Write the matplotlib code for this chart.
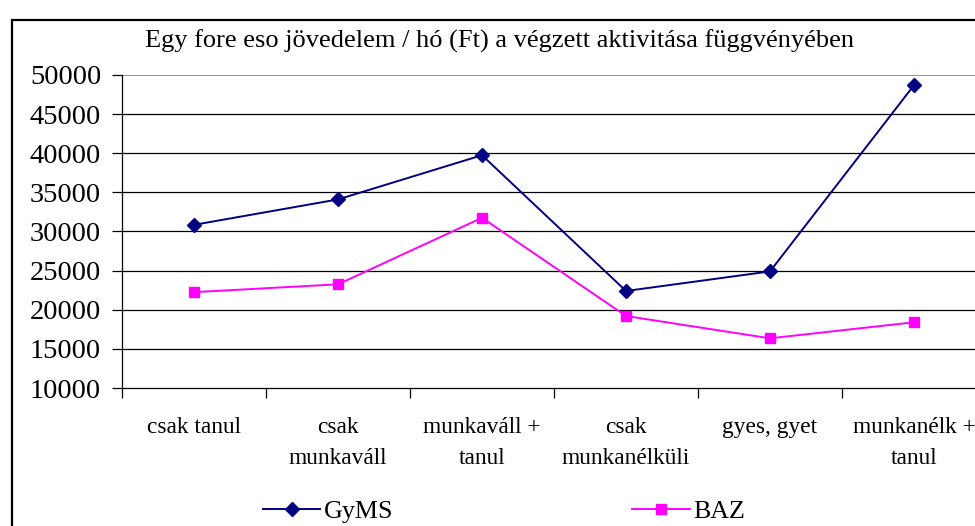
import matplotlib
matplotlib.use("Agg")
import matplotlib.pyplot as plt
from matplotlib.patches import Rectangle
from matplotlib.lines import Line2D

categories = ["csak tanul", "csak\nmunkaváll", "munkaváll +\ntanul",
              "csak\nmunkanélküli", "gyes, gyet", "munkanélk +\ntanul"]
gyms = [30850, 34100, 39750, 22400, 24900, 48700]
baz = [22250, 23250, 31750, 19200, 16350, 18400]
yticks = [10000, 15000, 20000, 25000, 30000, 35000, 40000, 45000, 50000]
title = "Egy fore eso jövedelem / hó (Ft) a végzett aktivitása függvényében"

plt.rcParams['font.family'] = ['Liberation Serif', 'DejaVu Serif']

W, H = 975, 526
fig = plt.figure(figsize=(W / 100, H / 100), dpi=100)

# outer chart border
fig.patches.append(Rectangle((12 / W, -0.1), 1.2, 1 - 20 / H + 0.1,
                             transform=fig.transFigure, fill=False,
                             edgecolor='black', linewidth=1.6))

ax = fig.add_axes([122 / W, 1 - 388 / H, (986 - 122) / W, (388 - 75) / H])
x = list(range(len(categories)))

ax.set_ylim(10000, 50000)
ax.set_yticks(yticks)
ax.set_yticklabels([str(v) for v in yticks], fontsize=20.5)
for v in yticks[1:-1]:
    ax.axhline(v, color='black', linewidth=0.9, zorder=1)
ax.axhline(yticks[-1], color='#808080', linewidth=1.2, zorder=1)

ax.set_xlim(-0.5, len(categories) - 0.5)
ax.set_xticks([i - 0.5 for i in range(len(categories) + 1)])
ax.set_xticklabels([])
ax.set_xticks(x, minor=True)
ax.set_xticklabels(categories, minor=True, fontsize=16.8, linespacing=1.6)
ax.tick_params(axis='x', which='minor', length=0, pad=21)
ax.tick_params(axis='x', which='major', length=7, width=0.9, direction='out')
ax.tick_params(axis='y', length=7, width=0.9, direction='out', pad=8)

for s in ['top', 'right']:
    ax.spines[s].set_visible(False)
for s in ['left', 'bottom']:
    ax.spines[s].set_linewidth(0.9)

ax.plot(x, gyms, color='#000080', marker='D', markersize=7, linewidth=1.4,
        label='GyMS', zorder=3, clip_on=False)
ax.plot(x, baz, color='#FF00FF', marker='s', markersize=7.5, linewidth=1.4,
        label='BAZ', zorder=3, clip_on=False)

fig.text(500 / W, 1 - 41 / H, title, ha='center', va='center', fontsize=19)

h1 = Line2D([], [], color='#000080', marker='D', markersize=7, linewidth=1.4)
h2 = Line2D([], [], color='#FF00FF', marker='s', markersize=7.5, linewidth=1.4)
fig.legend([h1, h2], ['GyMS', 'BAZ'], ncol=2, loc='center left',
           bbox_to_anchor=(263 / W, 1 - 511 / H), frameon=False, fontsize=18.7,
           handlelength=2.2, handletextpad=0.15, columnspacing=9.2,
           borderpad=0, borderaxespad=0)

fig.savefig("out.png", dpi=100)
